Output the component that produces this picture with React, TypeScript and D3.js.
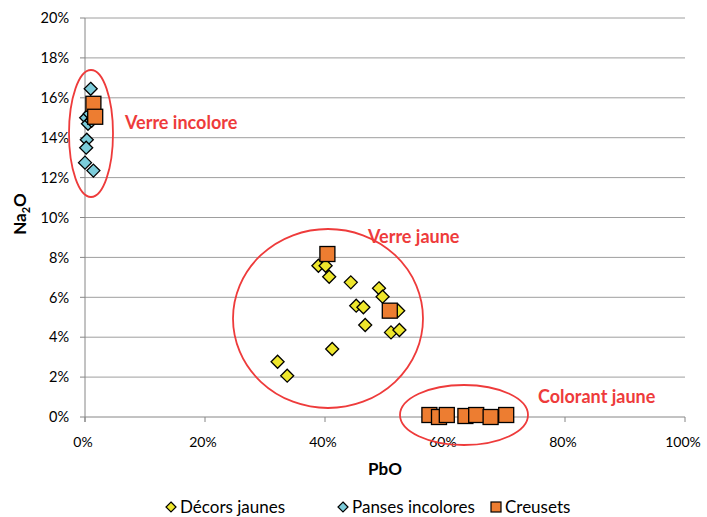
import React from "react";
import * as d3 from "d3";

const decorsX = [38.9, 40.1, 40.7, 44.3, 49.0, 49.6, 45.2, 46.4, 52.2, 46.7, 51.0, 52.4, 41.2, 32.1, 33.7, 1.2, 1.0];
const decorsY = [7.58, 7.58, 7.03, 6.75, 6.45, 6.03, 5.58, 5.5, 5.33, 4.61, 4.24, 4.36, 3.41, 2.77, 2.07, 15.3, 14.9];
const pansesX = [0.95, 0.2, 0.5, 0.3, 0.2, 0.0, 1.4, 0.8, 1.1];
const pansesY = [16.45, 15.0, 14.7, 13.9, 13.5, 12.75, 12.35, 15.2, 14.85];
const creusetsX = [1.4, 1.7, 40.4, 50.8, 57.4, 59.0, 60.3, 63.4, 65.2, 67.6, 70.2];
const creusetsY = [15.7, 15.05, 8.17, 5.33, 0.1, 0.0, 0.1, 0.05, 0.1, 0.0, 0.1];
const xTicks = [0, 20, 40, 60, 80, 100];
const yTicks = [0, 2, 4, 6, 8, 10, 12, 14, 16, 18, 20];
const legendLabels = ["Décors jaunes", "Panses incolores", "Creusets"];
const groupLabels = ["Verre incolore", "Verre jaune", "Colorant jaune"];

const YELLOW = "#EEE62C";
const BLUE = "#7CCCDA";
const ORANGE = "#ED7D31";
const RED = "#EE3B3B";
const FONT = "Lato, 'Open Sans', sans-serif";

export default function App() {
  const x = d3.scaleLinear().domain([0, 100]).range([85, 685]);
  const y = d3.scaleLinear().domain([0, 20]).range([417, 18]);
  const dh = 6.5;
  const sq = 15;
  const diamond = (cx: number, cy: number, r: number) =>
    `M${cx},${cy - r}L${cx + r},${cy}L${cx},${cy + r}L${cx - r},${cy}Z`;

  return (
    <div style={{ position: "absolute", left: 0, top: 0 }}>
      <svg width={707} height={517} style={{ display: "block", fontFamily: FONT }}>
        <rect width={707} height={517} fill="#fff" />
        {yTicks.map((t) => (
          <g key={"y" + t}>
            {t > 0 && (
              <line x1={x(0)} x2={x(100)} y1={y(t)} y2={y(t)} stroke="#9E9E9E" strokeWidth={1} />
            )}
            <line x1={x(0) - 5} x2={x(0)} y1={y(t)} y2={y(t)} stroke="#868686" strokeWidth={1} />
            <text x={69} y={y(t)} dy="0.36em" textAnchor="end" fontSize={14.5} fill="#000">
              {t}%
            </text>
          </g>
        ))}
        <line x1={x(0)} x2={x(0)} y1={y(20)} y2={y(0) + 5} stroke="#868686" strokeWidth={1} />
        <line x1={x(0)} x2={x(100)} y1={y(0)} y2={y(0)} stroke="#868686" strokeWidth={1} />
        {xTicks.map((t) => (
          <g key={"x" + t}>
            <line x1={x(t)} x2={x(t)} y1={y(0)} y2={y(0) + 5} stroke="#868686" strokeWidth={1} />
            <text x={x(t) - 2} y={442} dy="0.36em" textAnchor="middle" fontSize={14} fill="#000">
              {t}%
            </text>
          </g>
        ))}
        <text x={385} y={469} dy="0.36em" textAnchor="middle" fontSize={17} fontWeight="bold">
          PbO
        </text>
        <text transform={`translate(20,214) rotate(-90)`} textAnchor="middle" fontSize={17} fontWeight="bold" dy="0.36em">
          Na<tspan fontSize={11} dy="4">2</tspan>
          <tspan dy="-4">O</tspan>
        </text>

        {decorsX.map((v, i) => (
          <path key={"d" + i} d={diamond(x(v), y(decorsY[i]), dh)} fill={YELLOW} stroke="#000" strokeWidth={1.3} />
        ))}
        {pansesX.map((v, i) => (
          <path key={"p" + i} d={diamond(x(v), y(pansesY[i]), dh)} fill={BLUE} stroke="#000" strokeWidth={1.3} />
        ))}
        {creusetsX.map((v, i) => (
          <rect key={"c" + i} x={x(v) - sq / 2} y={y(creusetsY[i]) - sq / 2} width={sq} height={sq} fill={ORANGE} stroke="#000" strokeWidth={1.3} />
        ))}

        <ellipse cx={91} cy={133.5} rx={22} ry={63.5} fill="none" stroke={RED} strokeWidth={1.8} />
        <ellipse cx={328} cy={318.5} rx={95} ry={89.5} fill="none" stroke={RED} strokeWidth={1.8} />
        <ellipse cx={464} cy={415} rx={64} ry={30} fill="none" stroke={RED} strokeWidth={1.8} />
        <text x={125} y={123} dy="0.36em" fontSize={18} fontWeight="bold" fill={RED}>{groupLabels[0]}</text>
        <text x={368} y={237} dy="0.36em" fontSize={18} fontWeight="bold" fill={RED}>{groupLabels[1]}</text>
        <text x={538} y={397} dy="0.36em" fontSize={18} fontWeight="bold" fill={RED}>{groupLabels[2]}</text>

        <path d={diamond(171, 507, 5)} fill={YELLOW} stroke="#000" strokeWidth={1.2} />
        <text x={180} y={507} dy="0.36em" fontSize={17}>{legendLabels[0]}</text>
        <path d={diamond(343, 507, 5)} fill={BLUE} stroke="#000" strokeWidth={1.2} />
        <text x={352} y={507} dy="0.36em" fontSize={17}>{legendLabels[1]}</text>
        <rect x={491} y={502} width={10} height={10} fill={ORANGE} stroke="#000" strokeWidth={1.2} />
        <text x={505} y={507} dy="0.36em" fontSize={17}>{legendLabels[2]}</text>
      </svg>
    </div>
  );
}
